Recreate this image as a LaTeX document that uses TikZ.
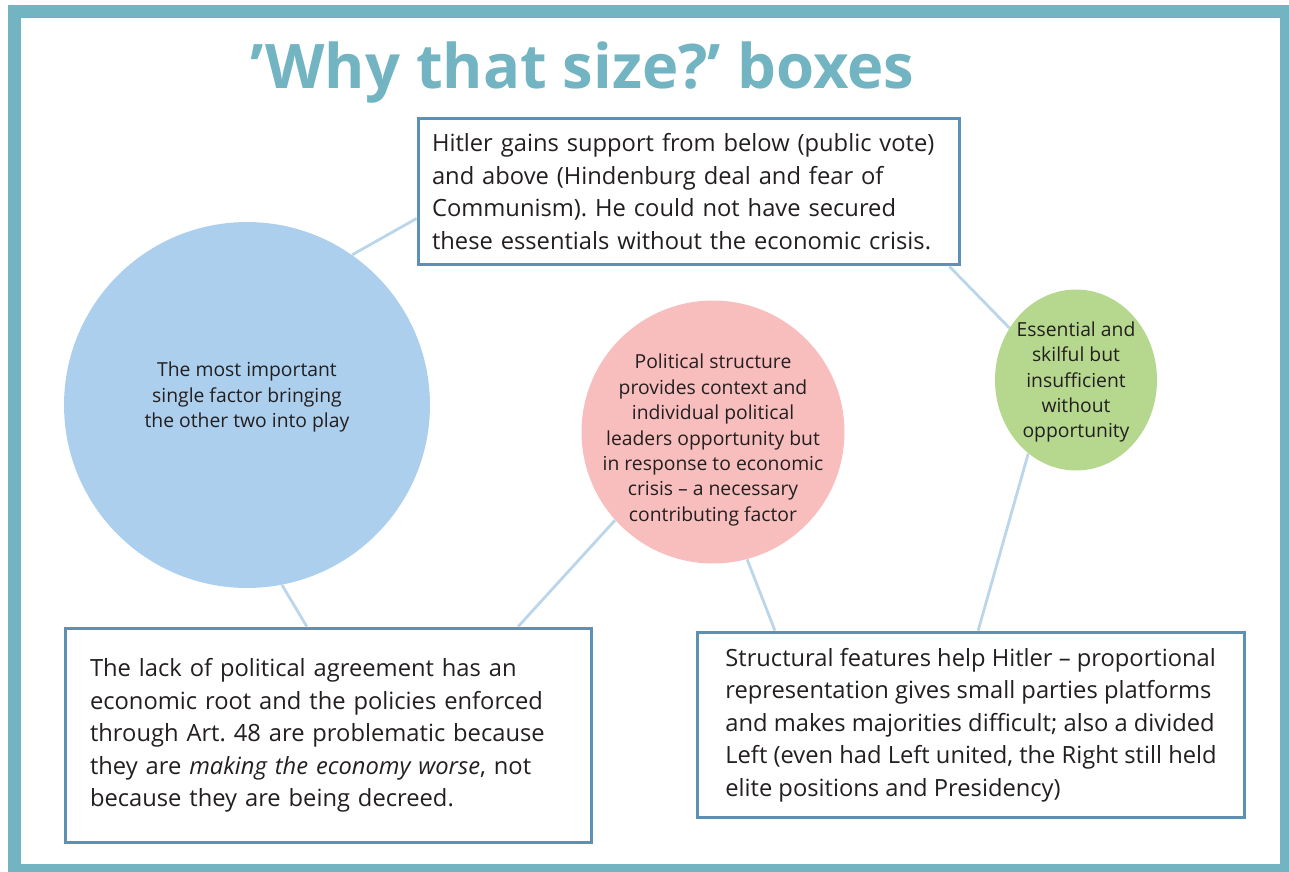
\documentclass[tikz,border=0pt]{standalone}
\usepackage{fontspec}
\setmainfont{Open Sans}
\usetikzlibrary{shapes.geometric,calc}
\definecolor{frameteal}{RGB}{114,180,193}
\definecolor{boxline}{RGB}{91,145,180}
\definecolor{linkblue}{RGB}{187,214,234}
\definecolor{bigblue}{RGB}{171,207,237}
\definecolor{softpink}{RGB}{248,190,190}
\definecolor{leafgreen}{RGB}{181,216,142}
\definecolor{inktext}{RGB}{35,31,32}
\frenchspacing
\begin{document}
\begin{tikzpicture}[x=0.02cm,y=-0.02cm,
  textbox/.style={draw=boxline,line width=1.7pt,fill=white,align=left,inner ysep=0pt,text=inktext,font=\fontsize{13.5}{18.5}\selectfont},
  bubble/.style={inner sep=0pt},
  bubbletext/.style={inner sep=0pt,align=center,text=inktext,font=\fontsize{11}{14.5}\selectfont},
  link/.style={draw=linkblue,line width=1.6pt}]
    \useasboundingbox (0,0) rectangle (1289,872);
    \draw[frameteal,line width=7.4pt] (14.5,11.5) rectangle (1286.5,870.5);
    \node[text=frameteal,font=\fontsize{35}{42}\selectfont\bfseries] (title) at (582.5,73) {'Why that size?' boxes};
    \node[bubble,circle,fill=bigblue,minimum size=7.32cm] (blue) at (247,405) {};
    \node[bubble,circle,fill=softpink,minimum size=5.26cm] (pink) at (713,432) {};
    \node[bubble,ellipse,fill=leafgreen,minimum width=3.24cm,minimum height=3.62cm] (green) at (1076,380) {};
    \node[bubbletext] (bluetext) at (247,397) {The most important\\single factor bringing\\the other two into play};
    \node[bubbletext] (pinktext) at (713,440) {Political structure\\provides context and\\individual political\\leaders opportunity but\\in response to economic\\crisis -- a necessary\\contributing factor};
    \node[bubbletext] (greentext) at (1076,382) {Essential and\\skilful but\\insufficient\\without\\opportunity};
    \node[textbox,text width=10.28cm,inner xsep=0.28cm,minimum height=2.94cm] (top) at (689,191.5) {Hitler gains support from below (public vote)\\and above (Hindenburg deal and fear of\\Communism). He could not have secured\\these essentials without the economic crisis.};
    \node[textbox,text width=9.54cm,inner xsep=0.5cm,minimum height=4.3cm] (lack) at (328.5,735.5) {The lack of political agreement has an\\economic root and the policies enforced\\through Art. 48 are problematic because\\they are \emph{making the economy worse}, not\\because they are being decreed.};
    \node[textbox,inner xsep=0pt,minimum width=10.96cm,minimum height=3.72cm] (struct) at (971,725) {Structural features help Hitler -- proportional\\representation gives small parties platforms\\and makes majorities difficult; also a divided\\Left (even had Left united, the Right still held\\elite positions and Presidency)};
    \draw[link] (blue.55) -- ($(top.north west)!0.68!(top.south west)$);
    \draw[link] ($(top.south west)!0.978!(top.south east)$) -- (green.142);
    \draw[link] (blue.-79) -- ($(lack.north west)!0.459!(lack.north east)$);
    \draw[link] (pink.222) -- ($(lack.north west)!0.858!(lack.north east)$);
    \draw[link] (pink.-75) -- ($(struct.north west)!0.144!(struct.north east)$);
    \draw[link] (green.237) -- ($(struct.north west)!0.513!(struct.north east)$);
\end{tikzpicture}
\end{document}
